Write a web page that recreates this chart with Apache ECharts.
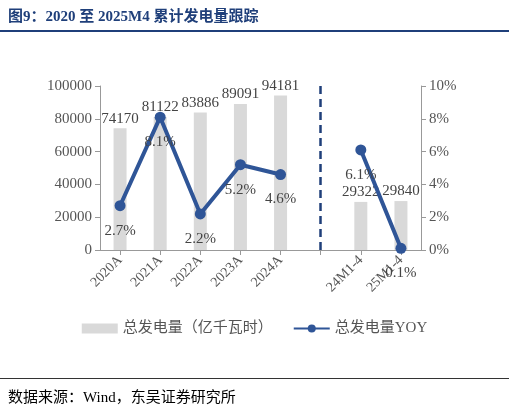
<!DOCTYPE html>
<html><head><meta charset="utf-8">
<script src="https://cdn.jsdelivr.net/npm/echarts@6/dist/echarts.min.js"></script>
<style>
body{margin:0;background:#fff;font-family:"Liberation Serif","Noto Sans CJK SC",serif}
#title{position:absolute;left:8px;top:4px;font-size:15px;font-weight:bold;color:#1f3f7a}
#tl{position:absolute;left:0;top:30px;width:509px;border-top:2px solid #1f3f7a}
#bl{position:absolute;left:0;top:378px;width:509px;border-top:1px solid #333}
#src{position:absolute;left:8px;top:385px;font-size:15px;color:#000}
#c{position:absolute;left:0;top:0;width:509px;height:413px}
</style></head><body>
<div id="c"></div>
<div id="title">图9：2020 至 2025M4 累计发电量跟踪</div>
<div id="tl"></div><div id="bl"></div>
<div id="src">数据来源：Wind，东吴证券研究所</div>
<script>
var categories = ['2020A','2021A','2022A','2023A','2024A','','24M1-4','25M1-4'];
var power = [74170,81122,83886,89091,94181,null,29322,29840];
var yoy = [2.7,8.1,2.2,5.2,4.6,null,6.1,0.1];
var font = '"Liberation Serif","Noto Sans CJK SC",serif';
var chart = echarts.init(document.getElementById('c'));
chart.setOption({
  animation:false,
  textStyle:{fontFamily:font},
  grid:{left:100,right:88,top:86,bottom:163},
  legend:{bottom:72,itemGap:20,textStyle:{fontSize:15,color:'#555',fontFamily:font},
    data:[{name:'总发电量（亿千瓦时）',icon:'rect'},{name:'总发电量YOY'}],
    itemWidth:36,itemHeight:10},
  xAxis:{type:'category',data:categories,
    axisLine:{lineStyle:{color:'#999'}},axisTick:{show:true,alignWithLabel:true,lineStyle:{color:'#999'}},
    axisLabel:{rotate:45,fontSize:14,color:'#555',interval:0,fontFamily:font}},
  yAxis:[{type:'value',min:0,max:100000,interval:20000,splitLine:{show:false},
    axisLine:{show:true,lineStyle:{color:'#999'}},axisTick:{show:true},
    axisLabel:{fontSize:15,color:'#555',fontFamily:font,formatter:function(v){return String(v);}}},
   {type:'value',min:0,max:10,interval:2,splitLine:{show:false},
    axisLine:{show:true,lineStyle:{color:'#999'}},axisTick:{show:true},
    axisLabel:{fontSize:15,color:'#555',formatter:'{value}%',fontFamily:font}}],
  series:[
   {name:'总发电量（亿千瓦时）',type:'bar',data:power,barWidth:13,itemStyle:{color:'#d9d9d9'},
    label:{show:true,position:'top',fontSize:15,color:'#444',fontFamily:font,distance:2},
    markLine:{symbol:'none',silent:true,label:{show:false},
      lineStyle:{color:'#1f3f7a',type:[8,5],width:2.5},data:[{xAxis:''}]}},
   {name:'总发电量YOY',type:'line',yAxisIndex:1,data:yoy,connectNulls:false,
    lineStyle:{color:'#2f5597',width:4},itemStyle:{color:'#2f5597'},symbol:'circle',symbolSize:11,
    label:{show:true,position:'bottom',distance:12,fontSize:15,color:'#444',fontFamily:font,formatter:'{c}%'}}
  ]
});
</script></body></html>
